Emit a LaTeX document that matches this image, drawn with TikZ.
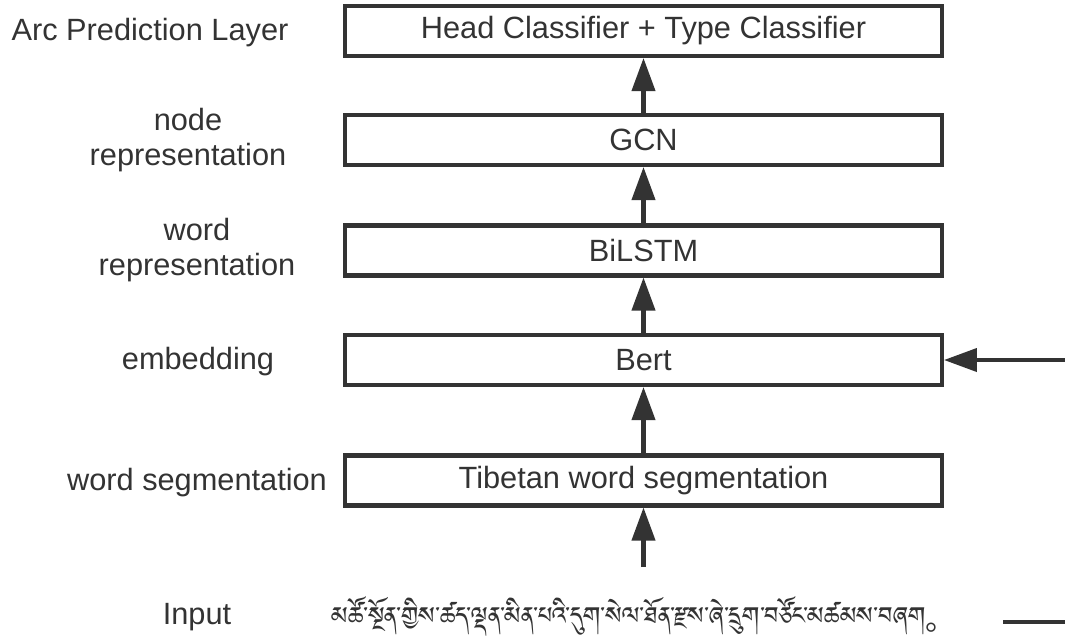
\documentclass[tikz,border=0pt]{standalone}
\usepackage{fontspec}
\setmainfont{Liberation Sans}
\newfontfamily\cjk{Noto Sans CJK SC}
\IfFontExistsTF{Jomolhari}{\newfontfamily\tibfont[Script=Tibetan]{Jomolhari}}{%
  \IfFontExistsTF{Tibetan Machine Uni}{\newfontfamily\tibfont[Script=Tibetan]{Tibetan Machine Uni}}{%
    \newcommand\tibfont{}}}
\usetikzlibrary{arrows.meta, positioning}
\definecolor{layergray}{RGB}{51, 51, 51}

\begin{document}
\begin{tikzpicture}[x=0.02cm, y=-0.02cm,
    every node/.style={font=\fontsize{17.5}{20}\selectfont, text=layergray, align=center},
    layer/.style={draw=layergray, line width=2.3pt, minimum width=11.94cm, minimum height=1cm, inner sep=0pt},
    flow/.style={draw=layergray, line width=2.3pt, -{Triangle[length=6.6mm, width=4.6mm]}}]

        \useasboundingbox (0,0) rectangle (1065,643);

        % --- CAPAS ---
        \node[layer] (arc) at (643.5,31) {Head Classifier + Type Classifier};
        \node[layer] (gcn) at (643.5,140) {GCN};
        \node[layer] (bilstm) at (643.5,250.5) {BiLSTM};
        \node[layer] (bert) at (643.5,360) {Bert};
        \node[layer] (seg) at (643.5,480.5) {Tibetan word segmentation};

        % --- ETIQUETAS ---
        \node (arclabel) at (150,33) {Arc Prediction Layer};
        \node (nodelabel) at (188,140) {node\\representation};
        \node (wordlabel) at (197,250) {word\\representation};
        \node (emblabel) at (198,362) {embedding};
        \node (seglabel) at (197,483) {word segmentation};
        \node (inputlabel) at (197,617) {Input};
        \node[inner sep=1pt] (sentence) at (644,616) {\tibfont མཚོ་སྔོན་གྱིས་ཚད་ལྡན་མིན་པའི་དུག་སེལ་ཐོན་རྫས་ཞེ་དྲུག་བཙོང་མཚམས་བཞག{\cjk 。}};

        % --- FLUJO ---
        \coordinate (src) at (643.5,567);
        \coordinate (feed) at (1065,360);
        \coordinate (outa) at (1003,622);
        \coordinate (outb) at (1065,622);
        \draw[flow] (src) -- (seg);
        \draw[flow] (seg) -- (bert);
        \draw[flow] (bert) -- (bilstm);
        \draw[flow] (bilstm) -- (gcn);
        \draw[flow] (gcn) -- (arc);
        \draw[flow] (feed) -- (bert.east);
        \draw[layergray, line width=2.3pt] (outa) -- (outb);

    \end{tikzpicture}
\end{document}
